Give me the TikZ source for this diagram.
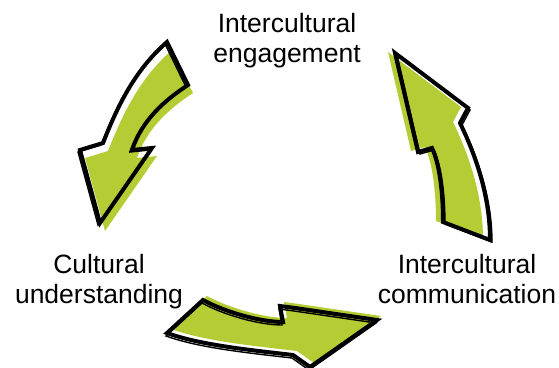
\documentclass[tikz,border=0pt]{standalone}
\usepackage{fontspec}
\setmainfont{Liberation Sans}
\definecolor{leaf}{RGB}{181,204,52}
\begin{document}
\begin{tikzpicture}[x=1pt,y=-1pt,
  lbl/.style={align=center,inner sep=0pt,anchor=base,font=\fontsize{26.5}{29.5}\selectfont},
  greenpart/.style={fill=leaf,draw=none},
  inkline/.style={draw=black,line width=4pt,line join=miter,fill=none},
  inkthin/.style={draw=black,line width=1.4pt,line join=miter,fill=none}]
\useasboundingbox (0,0) rectangle (559,367);
% arrow 1 (upper left, pointing down-left)
\def\arrowA{(100,223) -- (80,150) -- (103,143) .. controls (118,105) and (135,70) .. (167,42) -- (188,85) .. controls (165,100) and (142,120) .. (132,150) -- (152,148) -- cycle}
\def\arrowB{(395,53) -- (468,108) -- (460,123) .. controls (478,160) and (490,200) .. (490,240) -- (443,222) .. controls (443,195) and (440,165) .. (432,148) -- (418,152) -- cycle}
\def\arrowC{(377,320) -- (310,367) -- (293,355) .. controls (250,350) and (200,345) .. (167,333) -- (203,300) .. controls (225,312) and (260,322) .. (283,322) -- (280,306) -- (295,308) -- cycle}
\path[greenpart,shift={(5,8)}] \arrowA;
\path[inkline] \arrowA;
\path[inkthin,shift={(-2,2)}] \arrowA;
\path[greenpart,shift={(-7,-1)}] \arrowB;
\path[inkline] \arrowB;
\path[inkthin,shift={(2,2)}] \arrowB;
\path[greenpart,shift={(4,-4)}] \arrowC;
\path[inkline] \arrowC;
\path[inkthin,shift={(-1,3)}] \arrowC;
\node[lbl] (eng) at (287,62) {Intercultural\\engagement};
\node[lbl] (und) at (99,303) {Cultural\\understanding};
\node[lbl] (com) at (467,303) {Intercultural\\communication};
\end{tikzpicture}
\end{document}
